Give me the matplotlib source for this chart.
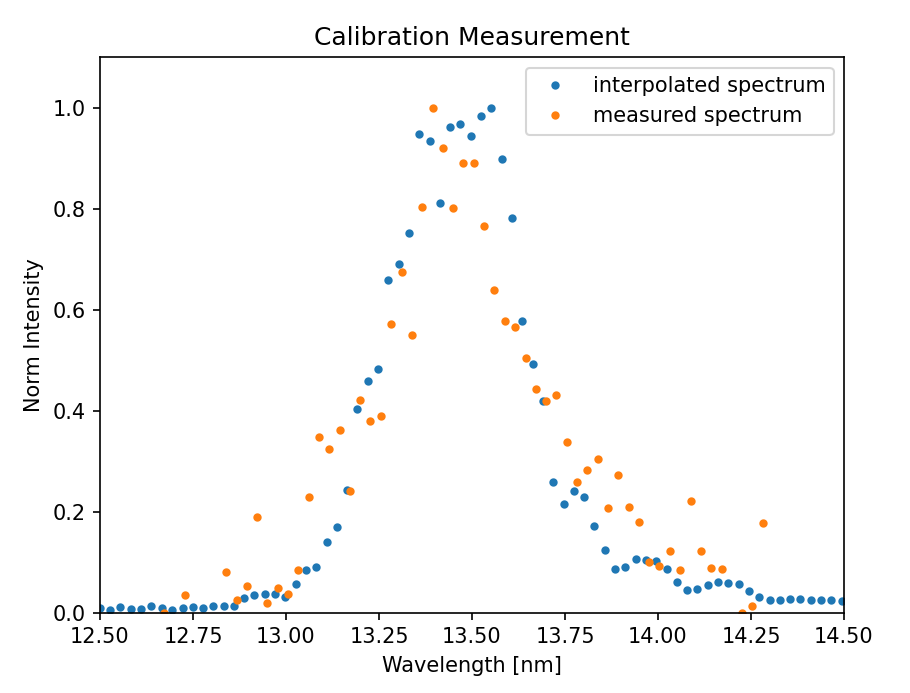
import numpy as np
import matplotlib
matplotlib.use("Agg")
import matplotlib.pyplot as plt

# interpolated spectrum (uniform grid)
interp_x = [12.500, 12.528, 12.555, 12.583, 12.611, 12.638, 12.666, 12.694, 12.722, 12.749,
            12.777, 12.805, 12.832, 12.860, 12.888, 12.915, 12.943, 12.971, 12.998, 13.026,
            13.054, 13.081, 13.109, 13.137, 13.165, 13.192, 13.220, 13.248, 13.275, 13.303,
            13.331, 13.358, 13.386, 13.414, 13.441, 13.469, 13.497, 13.525, 13.552, 13.580,
            13.608, 13.635, 13.663, 13.691, 13.718, 13.746, 13.774, 13.801, 13.829, 13.857,
            13.885, 13.912, 13.940, 13.968, 13.995, 14.023, 14.051, 14.078, 14.106, 14.134,
            14.161, 14.189, 14.217, 14.244, 14.272, 14.300, 14.328, 14.355, 14.383, 14.411,
            14.438, 14.466, 14.494]
interp_y = [0.009, 0.005, 0.011, 0.007, 0.007, 0.013, 0.009, 0.005, 0.009, 0.011,
            0.009, 0.013, 0.013, 0.013, 0.029, 0.035, 0.037, 0.037, 0.031, 0.057,
            0.085, 0.091, 0.140, 0.170, 0.243, 0.403, 0.459, 0.483, 0.658, 0.690,
            0.752, 0.948, 0.935, 0.812, 0.962, 0.968, 0.944, 0.983, 1.000, 0.899,
            0.782, 0.577, 0.492, 0.419, 0.258, 0.215, 0.241, 0.229, 0.172, 0.125,
            0.086, 0.090, 0.107, 0.105, 0.102, 0.086, 0.060, 0.044, 0.046, 0.054,
            0.060, 0.058, 0.056, 0.042, 0.032, 0.026, 0.026, 0.028, 0.028, 0.026,
            0.026, 0.026, 0.024]

# measured spectrum
meas_x = [12.672, 12.728, 12.839, 12.867, 12.894, 12.922, 12.950, 12.978, 13.005, 13.033,
          13.061, 13.089, 13.116, 13.144, 13.172, 13.200, 13.227, 13.255, 13.283, 13.311,
          13.338, 13.366, 13.394, 13.422, 13.449, 13.477, 13.505, 13.533, 13.560, 13.588,
          13.616, 13.644, 13.671, 13.699, 13.727, 13.755, 13.782, 13.810, 13.838, 13.866,
          13.893, 13.921, 13.949, 13.977, 14.004, 14.032, 14.060, 14.088, 14.115, 14.143,
          14.171, 14.226, 14.254, 14.282]
meas_y = [0.000, 0.035, 0.081, 0.026, 0.053, 0.190, 0.019, 0.048, 0.038, 0.084,
          0.230, 0.348, 0.324, 0.362, 0.241, 0.421, 0.380, 0.389, 0.572, 0.675,
          0.550, 0.803, 1.000, 0.921, 0.802, 0.891, 0.891, 0.766, 0.639, 0.578,
          0.566, 0.504, 0.443, 0.420, 0.431, 0.338, 0.258, 0.282, 0.304, 0.208,
          0.272, 0.210, 0.180, 0.100, 0.092, 0.123, 0.084, 0.221, 0.123, 0.088,
          0.086, 0.000, 0.013, 0.178]

W, H = 910, 693
fig = plt.figure(figsize=(W / 150, H / 150), dpi=150)
ax = fig.add_axes([100 / W, (H - 612.7) / H, (844 - 100) / W, (612.7 - 57.3) / H])

ax.plot(interp_x, interp_y, '.', label='interpolated spectrum')
ax.plot(meas_x, meas_y, '.', label='measured spectrum')

ax.set_xlim(12.5, 14.5)
ax.set_ylim(0, 1.1)
ax.set_xticks([12.5, 12.75, 13.0, 13.25, 13.5, 13.75, 14.0, 14.25, 14.5])
ax.set_yticks([0.0, 0.2, 0.4, 0.6, 0.8, 1.0])
ax.set_title('Calibration Measurement')
ax.set_xlabel('Wavelength [nm]')
ax.set_ylabel('Norm Intensity')
ax.legend(loc='upper right')

fig.savefig('out.png', dpi=150)
